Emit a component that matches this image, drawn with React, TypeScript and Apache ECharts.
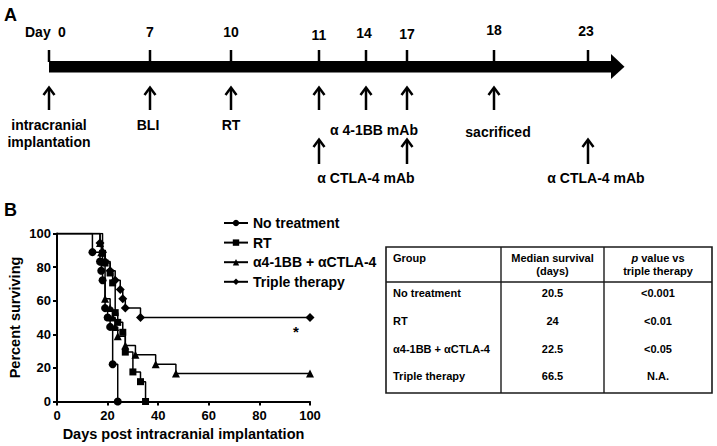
import React, { useEffect, useRef } from "react";
import * as echarts from "echarts";

// ---------- Panel B data (Kaplan-Meier steps: [day, percent surviving]) ----------
const seriesNames = ["No treatment", "RT", "\u03b14-1BB + \u03b1CTLA-4", "Triple therapy"];
const noTreatment = [[0, 100], [14, 88.9], [17, 83.3], [17.5, 77.8], [18, 72.2], [19, 55.6], [20, 50], [21, 44.4], [22, 22.2], [24, 0]];
const rtOnly = [[0, 100], [18, 88.2], [19, 82.4], [21, 76.5], [22, 70.6], [23, 52.9], [24, 47.1], [26, 41.2], [27, 29.4], [30, 17.6], [33, 11.8], [35, 0]];
const comboMab = [[0, 100], [17, 94.4], [17.5, 88.9], [18, 83.3], [19, 61.1], [21, 55.6], [22, 50], [23, 44.4], [24, 38.9], [27, 33.3], [31, 27.8], [39, 22.2], [47, 16.7], [100, 16.7]];
const tripleTherapy = [[0, 100], [17, 94.4], [18, 88.9], [19, 83.3], [21, 77.8], [23, 72.2], [25, 66.7], [26, 61.1], [27, 55.6], [33, 50], [100, 50]];
const xTicks = [0, 20, 40, 60, 80, 100];
const yTicks = [0, 20, 40, 60, 80, 100];

// ---------- Table data ----------
const tableGroups = ["No treatment", "RT", "\u03b14-1BB + \u03b1CTLA-4", "Triple therapy"];
const tableMedians = ["20.5", "24", "22.5", "66.5"];
const tablePValues = ["<0.001", "<0.01", "<0.05", "N.A."];

// ---------- Panel A timeline ----------
const timelineDays = ["0", "7", "10", "11", "14", "17", "18", "23"];
const upperEvents = ["intracranial\nimplantation", "BLI", "RT", "\u03b1 4-1BB mAb", "sacrificed"];
const lowerEvents = ["\u03b1 CTLA-4 mAb", "\u03b1 CTLA-4 mAb"];

// layout (pixel positions of the schematic)
const tickX = [49, 150, 231, 319, 366, 407, 494, 588];
const dayLabelX = [62, 150, 231, 319, 364, 407, 494, 586];
const dayLabelY = [32, 32, 32, 35, 33, 34, 30, 31];
const upperArrowX = [49, 150, 231, 319, 366, 407, 494];
const upperLabelPos = [[49, 133], [148, 125], [231, 125], [374, 130], [498, 132]];
const lowerArrowX = [319, 407, 588];
const lowerLabelPos = [[366, 178], [596, 178]];

const FF = '"Liberation Sans", Arial, Helvetica, sans-serif';
const B14 = `bold 14px ${FF}`;

function txt(text: string, x: number, y: number, font: string, align = "center", extra: any = {}) {
  return {
    type: "text",
    style: {
      text, x, y, font, fill: "#000",
      textAlign: align, textVerticalAlign: "middle",
      align, verticalAlign: "middle",
      lineHeight: 17,
      ...extra,
    },
  };
}

function upArrow(x: number, yTop: number, yBot: number) {
  return [
    { type: "line", shape: { x1: x, y1: yTop + 1, x2: x, y2: yBot }, style: { stroke: "#000", lineWidth: 2.5 } },
    { type: "polyline", shape: { points: [[x - 5.5, yTop + 8], [x, yTop + 0.5], [x + 5.5, yTop + 8]] }, style: { stroke: "#000", lineWidth: 2.5, fill: null } },
  ];
}

function kmData(arr: number[][]) {
  return arr.map((p, i) => (i === 0 ? { value: p, symbol: "none" } : { value: p }));
}

export default function App() {
  const ref = useRef<HTMLDivElement>(null);
  useEffect(() => {
    if (!ref.current) return;
    const chart = echarts.init(ref.current, undefined, { renderer: "svg" });

    const graphics: any[] = [];
    // Panel labels
    graphics.push(txt("A", 4, 15, `bold 18px ${FF}`, "left"));
    graphics.push(txt("B", 4, 210, `bold 18px ${FF}`, "left"));
    // Timeline
    graphics.push(txt("Day", 25, 32, B14, "left"));
    timelineDays.forEach((d, i) => graphics.push(txt(d, dayLabelX[i], dayLabelY[i], B14)));
    graphics.push({ type: "rect", shape: { x: 49, y: 61, width: 563, height: 11.5 }, style: { fill: "#000" } });
    graphics.push({ type: "polygon", shape: { points: [[611, 54], [624.5, 66.7], [611, 79]] }, style: { fill: "#000" } });
    tickX.forEach((x) =>
      graphics.push({ type: "line", shape: { x1: x, y1: 50, x2: x, y2: 62 }, style: { stroke: "#000", lineWidth: 2.5 } })
    );
    upperArrowX.forEach((x) => graphics.push(...upArrow(x, 87, 110)));
    upperEvents.forEach((t, i) => graphics.push(txt(t, upperLabelPos[i][0], upperLabelPos[i][1], B14)));
    lowerArrowX.forEach((x) => graphics.push(...upArrow(x, 139, 164)));
    lowerEvents.forEach((t, i) => graphics.push(txt(t, lowerLabelPos[i][0], lowerLabelPos[i][1], B14)));

    // Star on plot
    graphics.push(txt("*", 296, 331, `bold 15px ${FF}`));

    // Table
    const tx0 = 386, tx1 = 501, tx2 = 604, tx3 = 712, ty0 = 247, tyH = 282, ty1 = 393;
    graphics.push({ type: "rect", shape: { x: tx0, y: ty0, width: tx3 - tx0, height: ty1 - ty0 }, style: { fill: "#fff", stroke: "#1a1a1a", lineWidth: 1.6 } });
    graphics.push({ type: "line", shape: { x1: tx1, y1: ty0, x2: tx1, y2: ty1 }, style: { stroke: "#1a1a1a", lineWidth: 1.4 } });
    graphics.push({ type: "line", shape: { x1: tx2, y1: ty0, x2: tx2, y2: ty1 }, style: { stroke: "#1a1a1a", lineWidth: 1.4 } });
    graphics.push({ type: "line", shape: { x1: tx0, y1: tyH, x2: tx3, y2: tyH }, style: { stroke: "#1a1a1a", lineWidth: 1.4 } });
    const F11 = `bold 11px ${FF}`;
    graphics.push(txt("Group", 393, 258, F11, "left"));
    graphics.push(txt("Median survival", 552.5, 258, F11));
    graphics.push(txt("(days)", 552.5, 270.5, F11));
    graphics.push({
      type: "text",
      style: {
        text: "{i|p} value vs", x: 658, y: 258, textAlign: "center", textVerticalAlign: "middle", align: "center", verticalAlign: "middle",
        font: F11, fill: "#000",
        rich: { i: { fontStyle: "italic", fontWeight: "bold", fontSize: 11, fontFamily: FF, fill: "#000" } },
      },
    });
    graphics.push(txt("triple therapy", 658, 270.5, F11));
    tableGroups.forEach((g, i) => {
      const y = 293 + i * 27.8;
      graphics.push(txt(g, 393, y, F11, "left"));
      graphics.push(txt(tableMedians[i], 552.5, y, F11));
      graphics.push(txt(tablePValues[i], 658, y, F11));
    });

    const lineSeries = (name: string, data: number[][], symbol: string, size: number) => ({
      type: "line",
      name,
      step: "end",
      data: kmData(data),
      symbol,
      symbolSize: size,
      showSymbol: true,
      showAllSymbol: true,
      lineStyle: { color: "#000", width: 1.5 },
      itemStyle: { color: "#000" },
      z: 3,
    });

    chart.setOption({
      animation: false,
      backgroundColor: "#fff",
      textStyle: { fontFamily: FF },
      grid: { left: 57, top: 233.5, right: 407, bottom: 44.5, containLabel: false },
      legend: {
        orient: "vertical",
        left: 218,
        top: 211,
        itemWidth: 24,
        itemHeight: 8,
        itemGap: 5.6,
        data: seriesNames,
        textStyle: { fontWeight: "bold", fontSize: 14, color: "#000", fontFamily: FF },
        selectedMode: false,
      },
      xAxis: {
        type: "value",
        min: xTicks[0],
        max: xTicks[xTicks.length - 1],
        interval: xTicks[1] - xTicks[0],
        name: "Days post intracranial implantation",
        nameLocation: "middle",
        nameGap: 25,
        nameTextStyle: { fontWeight: "bold", fontSize: 14.5, color: "#000", fontFamily: FF },
        axisLine: { lineStyle: { color: "#000", width: 2 } },
        axisTick: { show: true, length: 4, lineStyle: { color: "#000", width: 2 } },
        axisLabel: { color: "#000", fontWeight: "bold", fontSize: 13, margin: 7, fontFamily: FF },
        splitLine: { show: false },
      },
      yAxis: {
        type: "value",
        min: yTicks[0],
        max: yTicks[yTicks.length - 1],
        interval: yTicks[1] - yTicks[0],
        name: "Percent surviving",
        nameLocation: "middle",
        nameGap: 35,
        nameTextStyle: { fontWeight: "bold", fontSize: 14.5, color: "#000", fontFamily: FF },
        axisLine: { show: true, lineStyle: { color: "#000", width: 2 } },
        axisTick: { show: true, length: 4, lineStyle: { color: "#000", width: 2 } },
        axisLabel: { color: "#000", fontWeight: "bold", fontSize: 13, margin: 6, fontFamily: FF },
        splitLine: { show: false },
      },
      series: [
        lineSeries(seriesNames[0], noTreatment, "circle", 8),
        lineSeries(seriesNames[1], rtOnly, "rect", 7),
        lineSeries(seriesNames[2], comboMab, "triangle", 8),
        lineSeries(seriesNames[3], tripleTherapy, "diamond", 9),
      ],
      graphic: { elements: graphics },
    });
    return () => chart.dispose();
  }, []);
  return <div ref={ref} style={{ position: "absolute", left: 0, top: 0, width: 717, height: 446 }} />;
}
